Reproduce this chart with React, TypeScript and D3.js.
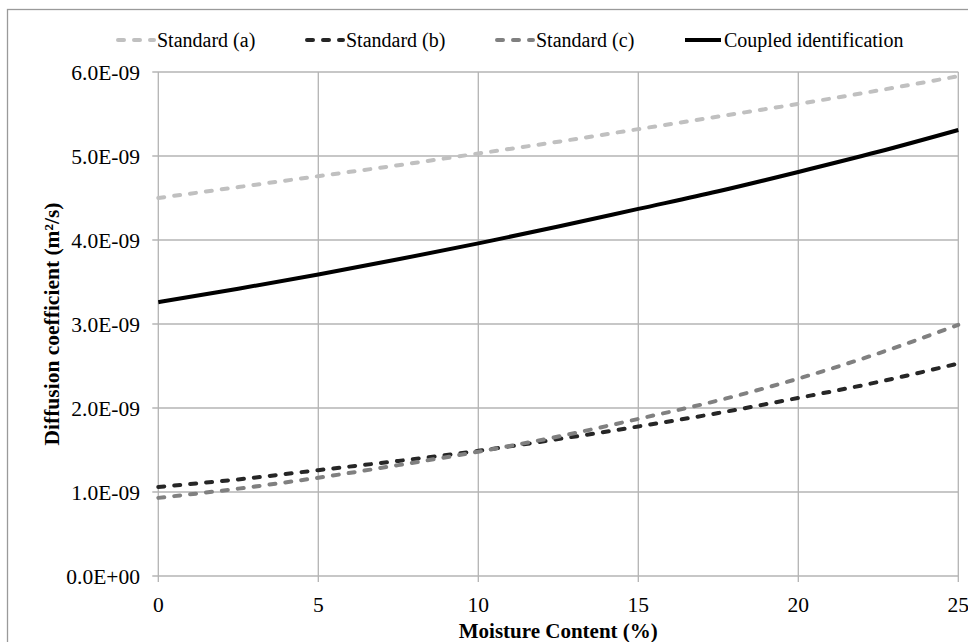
import React from "react";
import * as d3 from "d3";

const moisture = [0, 2.5, 5, 7.5, 10, 12.5, 15, 17.5, 20, 22.5, 25];
const standardA = [4.5, 4.63, 4.76, 4.89, 5.03, 5.17, 5.32, 5.47, 5.62, 5.78, 5.95];
const standardB = [1.06, 1.15, 1.26, 1.37, 1.49, 1.63, 1.78, 1.94, 2.12, 2.31, 2.53];
const standardC = [0.93, 1.04, 1.17, 1.32, 1.48, 1.66, 1.87, 2.09, 2.35, 2.65, 2.99];
const coupled = [3.26, 3.42, 3.59, 3.77, 3.96, 4.16, 4.37, 4.58, 4.81, 5.05, 5.31];
const xTicks = [0, 5, 10, 15, 20, 25];
const yTicks = [0, 1, 2, 3, 4, 5, 6];
const yTickLabels = ["0.0E+00", "1.0E-09", "2.0E-09", "3.0E-09", "4.0E-09", "5.0E-09", "6.0E-09"];

const seriesNames = ["Standard (a)", "Standard (b)", "Standard (c)", "Coupled identification"];
const seriesData = [standardA, standardB, standardC, coupled];
const seriesColors = ["#c0c0c0", "#262626", "#808080", "#000000"];
const seriesDash = ["6 10", "6 10", "6 10", null];
const legendX = [116, 305, 495, 683];

const W = 968;
const H = 642;
const FONT = "'Liberation Serif', 'Times New Roman', serif";

export default function App() {
  const x = d3.scaleLinear().domain([0, 25]).range([158.3, 958.3]);
  const y = d3.scaleLinear().domain([0, 6]).range([576, 72]);
  const line = d3
    .line<[number, number]>()
    .x((d) => x(d[0]))
    .y((d) => y(d[1]))
    .curve(d3.curveMonotoneX);
  const grid = "#b4b4b4";

  return (
    <svg
      width={W}
      height={H}
      style={{ position: "absolute", left: 0, top: 0, background: "#fff" }}
      fontFamily={FONT}
    >
      <rect x={0} y={0} width={W} height={H} fill="#fff" />
      <rect x={7.5} y={9.5} width={W + 20} height={H + 20} fill="none" stroke="#9a9a9a" strokeWidth={1.3} />
      {/* gridlines */}
      {yTicks.map((t) => (
        <line key={"gy" + t} x1={x(0) - 6} x2={x(25)} y1={y(t)} y2={y(t)} stroke={grid} strokeWidth={1.3} />
      ))}
      {xTicks.map((t) => (
        <line key={"gx" + t} x1={x(t)} x2={x(t)} y1={y(6)} y2={y(0) + 6} stroke={grid} strokeWidth={1.3} />
      ))}
      {/* y tick labels */}
      {yTicks.map((t, i) => (
        <text key={"ly" + t} x={140} y={y(t)} dy="0.35em" textAnchor="end" fontSize={21.5} fill="#000">
          {yTickLabels[i]}
        </text>
      ))}
      {xTicks.map((t) => (
        <text key={"lx" + t} x={x(t)} y={612} textAnchor="middle" fontSize={21.5} fill="#000">
          {t}
        </text>
      ))}
      {/* axis titles */}
      <text x={(x(0) + x(25)) / 2} y={638} textAnchor="middle" fontSize={21} fontWeight="bold">
        Moisture Content (%)
      </text>
      <text
        transform="translate(59,324) rotate(-90)"
        textAnchor="middle"
        fontSize={21.5}
        fontWeight="bold"
      >
        Diffusion coefficient (m²/s)
      </text>
      {/* series */}
      {seriesData.map((vals, i) => (
        <path
          key={"s" + i}
          d={line(moisture.map((m, j) => [m, vals[j]] as [number, number])) || ""}
          fill="none"
          stroke={seriesColors[i]}
          strokeWidth={4}
          strokeDasharray={seriesDash[i] || undefined}
          strokeLinecap={seriesDash[i] ? "round" : "butt"}
        />
      ))}
      {/* legend */}
      {seriesNames.map((n, i) => (
        <g key={"lg" + i}>
          <line
            x1={legendX[i] + 2}
            x2={legendX[i] + 38}
            y1={40}
            y2={40}
            stroke={seriesColors[i]}
            strokeWidth={4}
            strokeDasharray={seriesDash[i] || undefined}
            strokeLinecap={seriesDash[i] ? "round" : "butt"}
          />
          <text x={legendX[i] + 41} y={40} dy="0.35em" fontSize={20}>
            {n}
          </text>
        </g>
      ))}
    </svg>
  );
}
